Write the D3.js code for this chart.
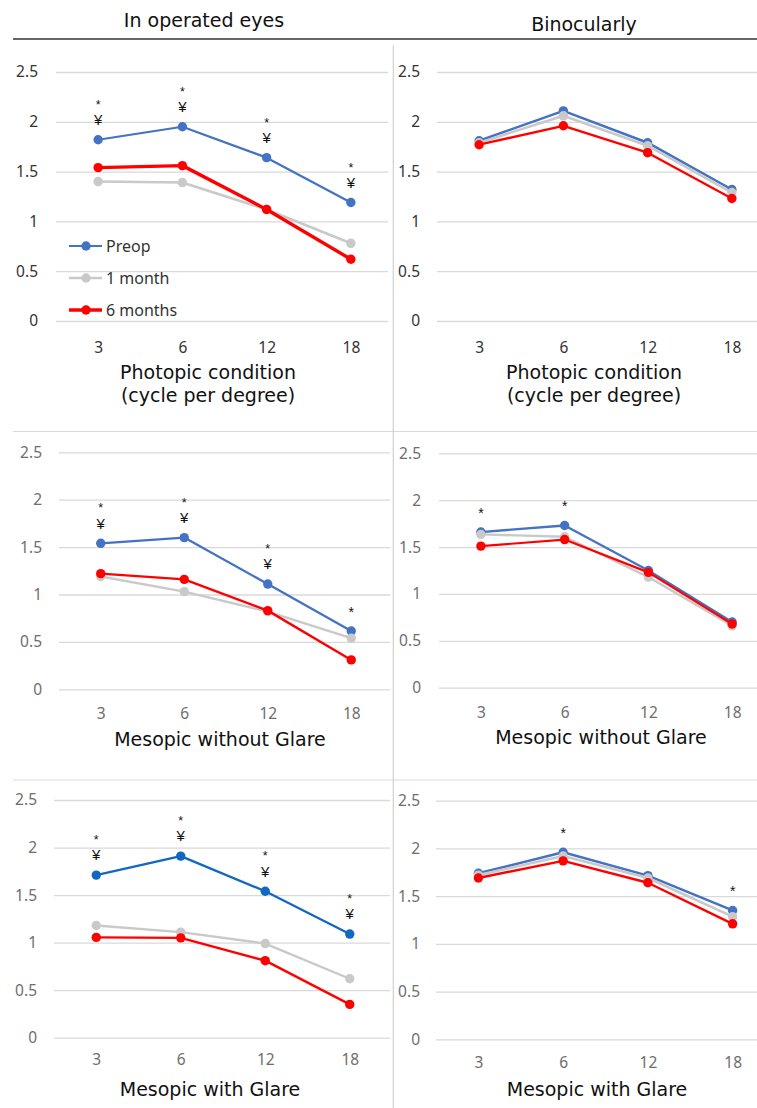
<!DOCTYPE html>
<html>
<head>
<meta charset="utf-8">
<script src="https://cdn.jsdelivr.net/npm/d3@7"></script>
<style>
  html, body { margin: 0; padding: 0; background: #fff; }
  svg { display: block; font-family: "Noto Sans", "Open Sans", sans-serif; }
</style>
</head>
<body>
<svg id="chart" width="757" height="1108"></svg>
<script>
// ---------------- DATA ----------------
const categories = ["3", "6", "12", "18"];
const yTicks = [0, 0.5, 1, 1.5, 2, 2.5];
const seriesNames = ["Preop", "1 month", "6 months"];
const columnTitles = ["In operated eyes", "Binocularly"];

// Photopic condition – operated eyes
const photopicOperatedPreop = [1.82, 1.95, 1.64, 1.19];
const photopicOperated1m    = [1.40, 1.39, 1.12, 0.78];
const photopicOperated6m    = [1.54, 1.56, 1.12, 0.62];
const photopicOperatedMarks = [["*", "¥"], ["*", "¥"], ["*", "¥"], ["*", "¥"]];

// Photopic condition – binocular
const photopicBinoPreop = [1.81, 2.11, 1.79, 1.32];
const photopicBino1m    = [1.79, 2.06, 1.76, 1.29];
const photopicBino6m    = [1.77, 1.96, 1.69, 1.23];
const photopicBinoMarks = [[], [], [], []];

// Mesopic without glare – operated eyes
const mesopicOperatedPreop = [1.54, 1.60, 1.11, 0.615];
const mesopicOperated1m    = [1.19, 1.03, 0.82, 0.54];
const mesopicOperated6m    = [1.22, 1.16, 0.83, 0.31];
const mesopicOperatedMarks = [["*", "¥"], ["*", "¥"], ["*", "¥"], ["*"]];

// Mesopic without glare – binocular
const mesopicBinoPreop = [1.66, 1.73, 1.25, 0.70];
const mesopicBino1m    = [1.635, 1.61, 1.18, 0.66];
const mesopicBino6m    = [1.51, 1.58, 1.23, 0.68];
const mesopicBinoMarks = [["*"], ["*"], [], []];

// Mesopic with glare – operated eyes
const glareOperatedPreop = [1.71, 1.91, 1.54, 1.09];
const glareOperated1m    = [1.18, 1.11, 0.99, 0.62];
const glareOperated6m    = [1.055, 1.05, 0.81, 0.35];
const glareOperatedMarks = [["*", "¥"], ["*", "¥"], ["*", "¥"], ["*", "¥"]];

// Mesopic with glare – binocular
const glareBinoPreop = [1.74, 1.96, 1.715, 1.35];
const glareBino1m    = [1.72, 1.92, 1.69, 1.285];
const glareBino6m    = [1.69, 1.87, 1.64, 1.21];
const glareBinoMarks = [[], ["*"], [], ["*"]];

const titlePhotopic = ["Photopic condition", "(cycle per degree)"];
const titleNoGlare = ["Mesopic without Glare"];
const titleGlare = ["Mesopic with Glare"];

// ---------------- LAYOUT / STYLE ----------------
const svg = d3.select("#chart");
const titleFont = "DejaVu Sans, sans-serif";
const markFont = "Liberation Sans, Arial, sans-serif";

const panels = [
  { series: [photopicOperatedPreop, photopicOperated1m, photopicOperated6m], marks: photopicOperatedMarks,
    title: titlePhotopic, x0: 56, x1: 393, gridEnd: 388, y0: 321, y1: 72, yPad: 18, xPad: 20.5,
    titleX: 208, titleY: 379, tickColor: "#333", legend: true,
    widths: [2.2, 2.6, 3.4], preopColor: "#4472C4" },
  { series: [photopicBinoPreop, photopicBino1m, photopicBino6m], marks: photopicBinoMarks,
    title: titlePhotopic, x0: 437, x1: 774, gridEnd: 757, y0: 321, y1: 72, yPad: 17, xPad: 20.5,
    titleX: 594, titleY: 379, tickColor: "#333",
    widths: [2.5, 2.6, 2.3], preopColor: "#4472C4" },
  { series: [mesopicOperatedPreop, mesopicOperated1m, mesopicOperated6m], marks: mesopicOperatedMarks,
    title: titleNoGlare, x0: 59, x1: 393, gridEnd: 390, y0: 689.3, y1: 452.3, yPad: 17, xPad: 18.4,
    titleX: 220, titleY: 746, tickColor: "#6e6e6e",
    widths: [2.3, 2.4, 2.4], preopColor: "#4472C4" },
  { series: [mesopicBinoPreop, mesopicBino1m, mesopicBino6m], marks: mesopicBinoMarks,
    title: titleNoGlare, x0: 439, x1: 774, gridEnd: 757, y0: 687.7, y1: 453.3, yPad: 18, xPad: 19.7,
    titleX: 601, titleY: 744, tickColor: "#6e6e6e",
    widths: [2.3, 2.4, 2.2], preopColor: "#4472C4" },
  { series: [glareOperatedPreop, glareOperated1m, glareOperated6m], marks: glareOperatedMarks,
    title: titleGlare, x0: 54, x1: 392, gridEnd: 390, y0: 1037.7, y1: 800, yPad: 17, xPad: 16.3,
    titleX: 210, titleY: 1096, tickColor: "#6e6e6e",
    widths: [2.3, 2.4, 2.4], preopColor: "#1068C0" },
  { series: [glareBinoPreop, glareBino1m, glareBino6m], marks: glareBinoMarks,
    title: titleGlare, x0: 436, x1: 775, gridEnd: 757, y0: 1039.3, y1: 800.7, yPad: 16, xPad: 17.4,
    titleX: 597, titleY: 1096, tickColor: "#6e6e6e",
    widths: [2.4, 2.6, 2.4], preopColor: "#4472C4" }
];

const otherColors = ["#C9C9C9", "#FF0000"];

// ---------------- FRAME ----------------
svg.append("text").attr("x", 204).attr("y", 27).attr("text-anchor", "middle")
  .attr("font-family", titleFont).attr("font-size", 19).attr("fill", "#111").text(columnTitles[0]);
svg.append("text").attr("x", 584).attr("y", 30.5).attr("text-anchor", "middle")
  .attr("font-family", titleFont).attr("font-size", 19).attr("fill", "#111").text(columnTitles[1]);
svg.append("line").attr("x1", 13).attr("x2", 757).attr("y1", 39).attr("y2", 39)
  .attr("stroke", "#333").attr("stroke-width", 1.6);
[431.5, 780].forEach(yy => svg.append("line").attr("x1", 13).attr("x2", 757)
  .attr("y1", yy).attr("y2", yy).attr("stroke", "#d9d9d9").attr("stroke-width", 1.2));
svg.append("line").attr("x1", 393.3).attr("x2", 393.3).attr("y1", 45).attr("y2", 1108)
  .attr("stroke", "#d0d0d0").attr("stroke-width", 1.2);

// ---------------- PANELS ----------------
panels.forEach((p, pi) => {
  const g = svg.append("g");
  const x = d3.scalePoint().domain(categories).range([p.x0, p.x1]).padding(0.5);
  const y = d3.scaleLinear().domain([0, 2.5]).range([p.y0, p.y1]);

  // y axis + gridlines
  const ya = g.append("g").attr("transform", `translate(${p.x0},0)`)
    .call(d3.axisLeft(y).tickValues(yTicks).tickFormat(d3.format("")).tickSize(-(p.gridEnd - p.x0)).tickPadding(p.yPad));
  ya.select(".domain").remove();
  ya.selectAll(".tick line").attr("stroke", "#d9d9d9").attr("stroke-width", 1.3);
  ya.selectAll(".tick text").attr("font-size", 15.5).attr("fill", p.tickColor)
    .attr("font-family", "Noto Sans, sans-serif");

  // x axis
  const xa = g.append("g").attr("transform", `translate(0,${p.y0})`)
    .call(d3.axisBottom(x).tickSize(0).tickPadding(p.xPad));
  xa.select(".domain").remove();
  xa.selectAll(".tick text").attr("font-size", 15.5).attr("fill", p.tickColor)
    .attr("font-family", "Noto Sans, sans-serif");

  // title
  p.title.forEach((t, i) => {
    g.append("text").attr("x", p.titleX).attr("y", p.titleY + i * 23)
      .attr("text-anchor", "middle").attr("font-family", titleFont)
      .attr("font-size", 19).attr("fill", "#111").text(t);
  });

  // series
  const colors = [p.preopColor].concat(otherColors);
  const line = d3.line().x((d, i) => x(categories[i])).y(d => y(d));
  p.series.forEach((vals, si) => {
    g.append("path").datum(vals).attr("d", line).attr("fill", "none")
      .attr("stroke", colors[si]).attr("stroke-width", p.widths[si]).attr("stroke-linejoin", "round");
    g.selectAll(null).data(vals).enter().append("circle")
      .attr("cx", (d, i) => x(categories[i])).attr("cy", d => y(d))
      .attr("r", 4.7).attr("fill", colors[si]);
  });

  // significance marks, stacked above the preop point
  p.marks.forEach((mk, i) => {
    if (!mk.length) return;
    const px = x(categories[i]);
    const py = y(p.series[0][i]);
    const n = mk.length;
    mk.forEach((m, j) => {
      const level = n - 1 - j; // 0 = closest to point
      const isStar = m === "*";
      const center = n === 1 ? py - 22 : py - 20 - level * 18;
      const fs = isStar ? (n === 1 ? 14 : 12.5) : 15;
      const base = center + (isStar ? 0.57 * fs : 0.358 * fs);
      g.append("text").attr("x", px).attr("y", base).attr("text-anchor", "middle")
        .attr("font-family", markFont).attr("font-size", fs).attr("fill", "#111").text(m);
    });
  });

  // legend (first panel only)
  if (p.legend) {
    const ly = [246, 278, 310];
    seriesNames.forEach((name, si) => {
      g.append("line").attr("x1", 69).attr("x2", 102).attr("y1", ly[si]).attr("y2", ly[si])
        .attr("stroke", colors[si]).attr("stroke-width", p.widths[si]);
      g.append("circle").attr("cx", 86).attr("cy", ly[si]).attr("r", 4.7).attr("fill", colors[si]);
      g.append("text").attr("x", 106).attr("y", ly[si] + 6).attr("font-size", 16)
        .attr("fill", "#333").text(name);
    });
  }
});
</script>
</body>
</html>
